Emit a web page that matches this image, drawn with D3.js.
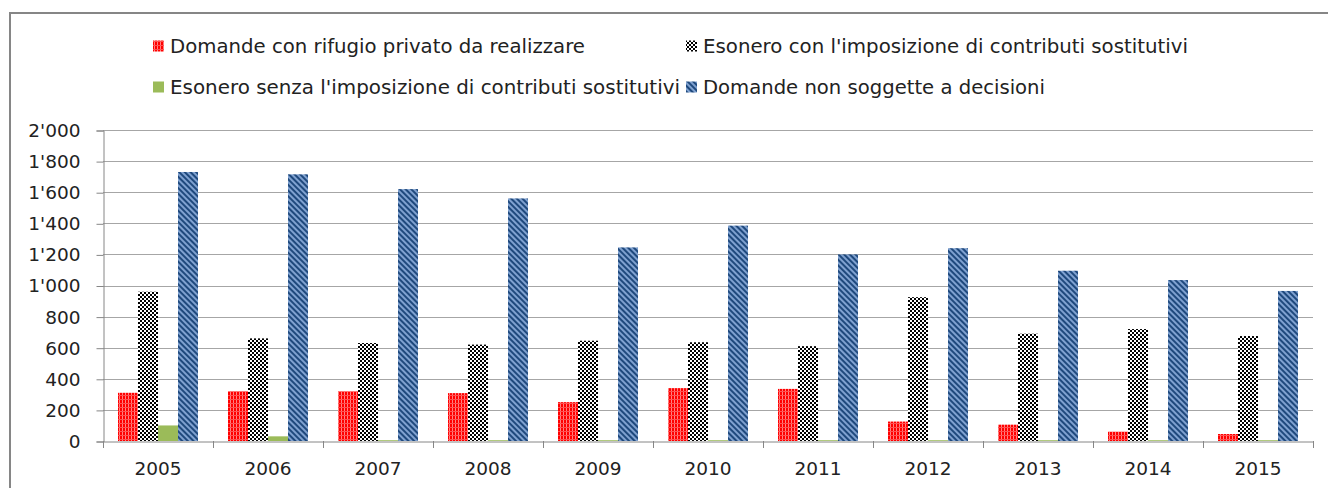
<!DOCTYPE html>
<html>
<head>
<meta charset="utf-8">
<script src="https://cdn.jsdelivr.net/npm/d3@7"></script>
<style>
  body { margin: 0; background: #fff; }
  text { font-family: "DejaVu Sans", sans-serif; fill: #222; }
</style>
</head>
<body>
<svg id="chart" width="1328" height="488"></svg>
<script>
// data
var years = ["2005","2006","2007","2008","2009","2010","2011","2012","2013","2014","2015"];
var seriesNames = [
  "Domande con rifugio privato da realizzare",
  "Esonero con l'imposizione di contributi sostitutivi",
  "Esonero senza l'imposizione di contributi sostitutivi",
  "Domande non soggette a decisioni"
];
var rifugio   = [310, 320, 320, 308, 250, 340, 335, 125, 105, 60, 45];
var conContr  = [960, 660, 630, 620, 645, 635, 610, 925, 690, 720, 675];
var senzaContr= [100, 30, 5, 5, 5, 5, 5, 5, 5, 5, 5];
var nonSogg   = [1730, 1715, 1620, 1560, 1245, 1385, 1200, 1240, 1095, 1035, 965];
var yTicks = [0, 200, 400, 600, 800, 1000, 1200, 1400, 1600, 1800, 2000];

var allSeries = [rifugio, conContr, senzaContr, nonSogg];
var fills = ["url(#pRed)", "url(#pCheck)", "#9BBB59", "url(#pBlue)"];

var svg = d3.select("#chart");
var width = 1328, height = 488;

svg.append("rect").attr("width", width).attr("height", height).attr("fill", "#fff");

// patterns
var defs = svg.append("defs");

var pr = defs.append("pattern").attr("id", "pRed")
  .attr("patternUnits", "userSpaceOnUse").attr("width", 3).attr("height", 4);
pr.append("rect").attr("width", 3).attr("height", 4).attr("fill", "#FF0000");
pr.append("rect").attr("x", 2).attr("width", 1).attr("height", 4).attr("fill", "#FF8080");
pr.append("rect").attr("y", 3).attr("width", 3).attr("height", 1).attr("fill", "#FF5050");

var pc = defs.append("pattern").attr("id", "pCheck")
  .attr("patternUnits", "userSpaceOnUse").attr("width", 4).attr("height", 4);
pc.append("rect").attr("width", 4).attr("height", 4).attr("fill", "#fff");
pc.append("rect").attr("width", 2).attr("height", 2).attr("fill", "#000");
pc.append("rect").attr("x", 2).attr("y", 2).attr("width", 2).attr("height", 2).attr("fill", "#000");

var pb = defs.append("pattern").attr("id", "pBlue")
  .attr("patternUnits", "userSpaceOnUse").attr("width", 4).attr("height", 4)
  .attr("patternTransform", "rotate(-45)");
pb.append("rect").attr("width", 4).attr("height", 4).attr("fill", "#7FA1D0");
pb.append("rect").attr("width", 2).attr("height", 4).attr("fill", "#1F497D");

// chart frame
svg.append("rect")
  .attr("x", 10).attr("y", 13).attr("width", 1340).attr("height", 500)
  .attr("fill", "none").attr("stroke", "#868686").attr("stroke-width", 2);

// scales
var x = d3.scaleBand().domain(years).range([103, 1313]);
var xs = d3.scaleBand().domain(d3.range(4)).range([15, 95]);
var y = d3.scaleLinear().domain([0, 2000]).range([441, 130]);

var fmt = d3.formatLocale({decimal: ".", thousands: "'", grouping: [3], currency: ["", ""]}).format(",");

// gridlines
svg.append("g").selectAll("line").data(yTicks.slice(1)).join("line")
  .attr("x1", 103).attr("x2", 1313)
  .attr("y1", function(d){ return Math.round(y(d)) + 0.5; })
  .attr("y2", function(d){ return Math.round(y(d)) + 0.5; })
  .attr("stroke", "#A6A6A6").attr("stroke-width", 1);

// y axis
var yAxis = svg.append("g").attr("transform", "translate(103.5,0.5)")
  .call(d3.axisLeft(y).tickValues(yTicks).tickFormat(fmt).tickSize(7).tickPadding(16));
yAxis.select(".domain").attr("stroke", "#868686");
yAxis.selectAll(".tick line").attr("stroke", "#868686");
yAxis.selectAll(".tick text").style("font-size", "18.5px").attr("fill", "#222");

// bars
allSeries.forEach(function(vals, si){
  svg.append("g").selectAll("rect").data(years).join("rect")
    .attr("x", function(d){ return x(d) + xs(si); })
    .attr("width", xs.bandwidth())
    .attr("y", function(d, i){ return y(vals[i]); })
    .attr("height", function(d, i){ return y(0) - y(vals[i]); })
    .attr("fill", fills[si]);
});

// x axis
var xAxis = svg.append("g").attr("transform", "translate(0,441.5)")
  .call(d3.axisBottom(x).tickSize(0).tickPadding(20));
xAxis.select(".domain").attr("stroke", "#868686");
xAxis.selectAll(".tick text").style("font-size", "18.5px").attr("fill", "#222");
svg.append("g").selectAll("line").data(years.concat(["end"])).join("line")
  .attr("x1", function(d){ return d === "end" ? 1313.5 : Math.round(x(d)) + 0.5; })
  .attr("x2", function(d){ return d === "end" ? 1313.5 : Math.round(x(d)) + 0.5; })
  .attr("y1", 441).attr("y2", 448)
  .attr("stroke", "#868686");

// legend
var legendPos = [[170, 46], [703, 46], [170, 87], [703, 87]];
var legendLen = [415, 485, 510, 342];
var lg = svg.append("g").selectAll("g").data(seriesNames).join("g")
  .attr("transform", function(d, i){ return "translate(" + legendPos[i][0] + "," + legendPos[i][1] + ")"; });
lg.append("rect").attr("x", -17).attr("y", -5.5).attr("width", 11).attr("height", 11)
  .attr("fill", function(d, i){ return fills[i]; });
lg.append("text").attr("x", 0).attr("y", 7)
  .style("font-size", "19.5px")
  .attr("textLength", function(d, i){ return legendLen[i]; })
  .attr("lengthAdjust", "spacingAndGlyphs")
  .text(function(d){ return d; });
</script>
</body>
</html>
